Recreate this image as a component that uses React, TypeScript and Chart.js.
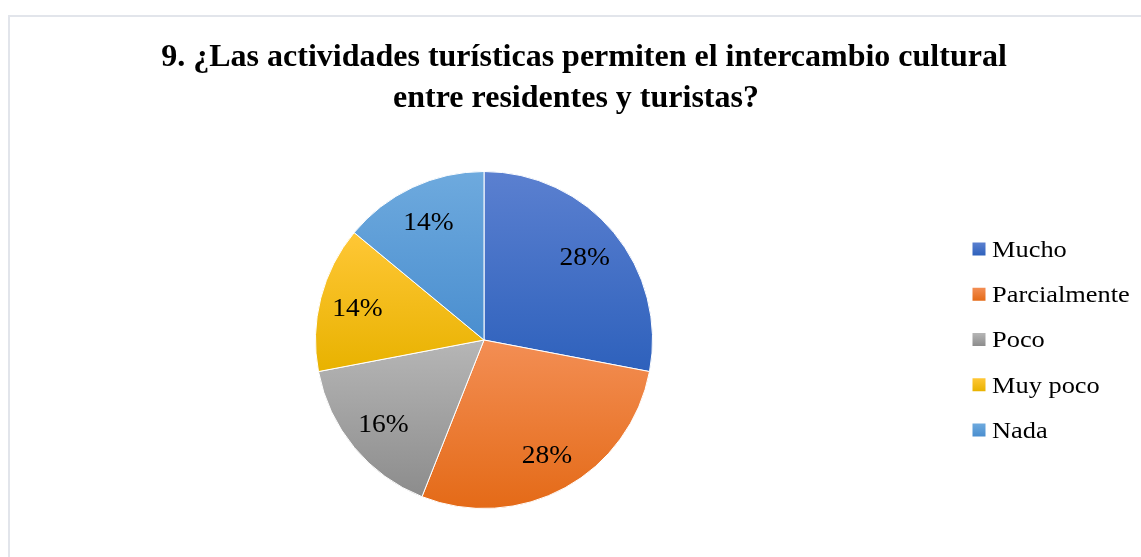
import React, { useEffect, useRef } from "react";
import { Chart, registerables } from "chart.js";

Chart.register(...registerables);

const categories = ["Mucho", "Parcialmente", "Poco", "Muy poco", "Nada"];
const values = [28, 28, 16, 14, 14];
const baseColors = ["#4472C4", "#ED7D31", "#A5A5A5", "#FFC000", "#5B9BD5"];
const topColors = ["#5b80d0", "#f38e54", "#b6b6b6", "#ffc736", "#6eaade"];
const bottomColors = ["#2e61bc", "#e46a17", "#8c8c8c", "#e8b200", "#4a8ecf"];
const titleLines = [
  "9. ¿Las actividades turísticas permiten el intercambio cultural",
  "entre residentes y turistas?",
];

function sliceGradient(c: any) {
  const chart = c.chart;
  const area = chart.chartArea;
  const i = c.dataIndex;
  if (!area || i == null) return baseColors[i] || baseColors[0];
  const data: number[] = c.dataset.data;
  const total = data.reduce((a, b) => a + b, 0);
  let before = 0;
  for (let k = 0; k < i; k++) before += data[k];
  const cx = (area.left + area.right) / 2;
  const cy = (area.top + area.bottom) / 2;
  const r = Math.min(area.width, area.height) / 2;
  const a0 = (before / total) * Math.PI * 2;
  const a1 = ((before + data[i]) / total) * Math.PI * 2;
  const yAt = (t: number) => cy - r * Math.cos(t);
  const ys = [cy, yAt(a0), yAt(a1)];
  if (a0 <= 0.0001 || a1 >= Math.PI * 2 - 0.0001) ys.push(cy - r);
  if (a0 <= Math.PI && a1 >= Math.PI) ys.push(cy + r);
  const y0 = Math.min(...ys);
  const y1 = Math.max(...ys);
  const g = chart.ctx.createLinearGradient(0, y0, 0, y1);
  g.addColorStop(0, topColors[i]);
  g.addColorStop(1, bottomColors[i]);
  return g;
}

const overlayPlugin = {
  id: "overlay",
  afterDatasetsDraw(chart: any) {
    const ctx = chart.ctx;
    const meta = chart.getDatasetMeta(0);
    const data: number[] = chart.data.datasets[0].data;
    const total = data.reduce((a, b) => a + b, 0);
    ctx.save();
    ctx.fillStyle = "#000";
    ctx.font = "25px 'Liberation Serif', 'Times New Roman', serif";
    ctx.textAlign = "center";
    ctx.textBaseline = "alphabetic";
    meta.data.forEach((el: any, i: number) => {
      const p = el.getProps(["x", "y", "startAngle", "endAngle", "outerRadius"], true);
      const mid = (p.startAngle + p.endAngle) / 2;
      const d = p.outerRadius * 0.775;
      const px = p.x + Math.cos(mid) * d;
      const py = p.y + Math.sin(mid) * d;
      const txt = Math.round((data[i] / total) * 100) + "%";
      ctx.save();
      ctx.translate(px, py + 8.5);
      ctx.scale(1.1, 1);
      ctx.fillText(txt, 0, 0);
      ctx.restore();
    });
    ctx.restore();
  },
  afterDraw(chart: any) {
    const ctx = chart.ctx;
    ctx.save();
    // title
    ctx.fillStyle = "#000";
    ctx.font = "bold 32px 'Liberation Serif', 'Times New Roman', serif";
    ctx.textAlign = "center";
    ctx.textBaseline = "alphabetic";
    const titleX = [584, 576];
    const titleY = [66, 107];
    titleLines.forEach((t, i) => ctx.fillText(t, titleX[i], titleY[i]));
    // legend
    const labels: string[] = chart.data.labels;
    const legendX = 972.5;
    const legendY0 = 249;
    const legendStep = 45.25;
    ctx.font = "24px 'Liberation Serif', 'Times New Roman', serif";
    ctx.textAlign = "left";
    labels.forEach((lab, i) => {
      const cy = legendY0 + i * legendStep;
      const g = ctx.createLinearGradient(0, cy - 6.5, 0, cy + 6.5);
      g.addColorStop(0, topColors[i]);
      g.addColorStop(1, bottomColors[i]);
      ctx.fillStyle = g;
      ctx.fillRect(legendX, cy - 6.5, 13, 13);
      ctx.fillStyle = "#000";
      ctx.save();
      ctx.translate(legendX + 19.5, cy + 7.8);
      ctx.scale(1.1, 1);
      ctx.fillText(lab, 0, 0);
      ctx.restore();
    });
    ctx.restore();
  },
};

export default function App() {
  const ref = useRef<HTMLCanvasElement>(null);
  useEffect(() => {
    if (!ref.current) return;
    const chart = new Chart(ref.current, {
      type: "pie",
      data: {
        labels: categories,
        datasets: [
          {
            data: values,
            backgroundColor: sliceGradient as any,
            borderColor: "#ffffff",
            borderWidth: 1,
          },
        ],
      },
      options: {
        responsive: false,
        maintainAspectRatio: false,
        animation: false,
        events: [],
        layout: { padding: { left: 315, right: 488, top: 171, bottom: 48 } },
        plugins: {
          legend: { display: false },
          title: { display: false },
          tooltip: { enabled: false },
        },
      },
      plugins: [overlayPlugin],
    });
    return () => chart.destroy();
  }, []);
  return (
    <div
      style={{
        position: "fixed",
        inset: 0,
        overflow: "hidden",
        background: "#ffffff",
      }}
    >
      <div
        style={{
          position: "absolute",
          left: 8,
          top: 15,
          width: 1400,
          height: 800,
          border: "2px solid #e2e5eb",
          boxSizing: "border-box",
        }}
      />
      <canvas
        ref={ref}
        width={1141}
        height={557}
        style={{ position: "absolute", left: 0, top: 0, width: 1141, height: 557 }}
      />
    </div>
  );
}
